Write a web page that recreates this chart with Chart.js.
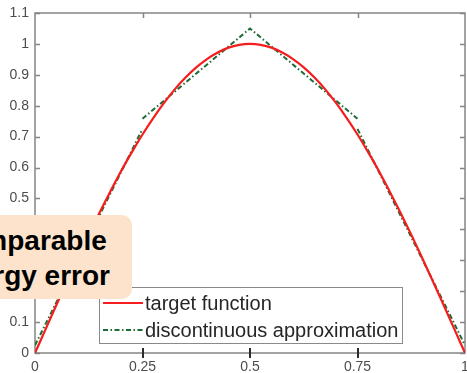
<!DOCTYPE html>
<html>
<head>
<meta charset="utf-8">
<script src="https://cdn.jsdelivr.net/npm/chart.js@4.4.1/dist/chart.umd.min.js"></script>
<style>
  html, body { margin: 0; padding: 0; background: #ffffff; overflow: hidden; }
  #wrap { position: relative; width: 467px; height: 373px; overflow: hidden; }
  #plot { position: absolute; left: 0; top: 0; }
  #note {
    position: absolute; left: -12px; top: 215px; width: 144px; height: 84px;
    background: #fde3cb; border-radius: 10px;
  }
  #noteText {
    position: absolute; left: -55px; top: 223px; margin: 0;
    font: bold 28px "Liberation Sans", Arial, sans-serif; line-height: 35px;
    color: #000000; white-space: pre;
  }
</style>
</head>
<body>
<div id="wrap">
  <canvas id="plot" width="467" height="373"></canvas>
  <div id="note"></div>
  <div id="noteText">Comparable
energy error</div>
</div>
<script>
// target function samples
const xTarget = [0, 0.025, 0.05, 0.075, 0.1, 0.125, 0.15, 0.175, 0.2, 0.225, 0.25,
                 0.275, 0.3, 0.325, 0.35, 0.375, 0.4, 0.425, 0.45, 0.475, 0.5,
                 0.525, 0.55, 0.575, 0.6, 0.625, 0.65, 0.675, 0.7, 0.725, 0.75,
                 0.775, 0.8, 0.825, 0.85, 0.875, 0.9, 0.925, 0.95, 0.975, 1];
const yTarget = [0, 0.078, 0.156, 0.233, 0.309, 0.383, 0.454, 0.522, 0.588, 0.649, 0.707,
                 0.760, 0.809, 0.853, 0.891, 0.924, 0.951, 0.972, 0.988, 0.997, 1.0,
                 0.997, 0.988, 0.972, 0.951, 0.924, 0.891, 0.853, 0.809, 0.760, 0.707,
                 0.649, 0.588, 0.522, 0.454, 0.383, 0.309, 0.233, 0.156, 0.078, 0];

// piecewise-linear approximation, broken (null) at the jumps
const xApprox = [0, 0.25, 0.25, 0.25, 0.5, 0.75, 0.75, 0.75, 1];
const yApprox = [0.025, 0.725, null, 0.758, 1.05, 0.758, null, 0.725, 0.025];

const seriesNames = ['target function', 'discontinuous approximation'];
const xTicks = [0, 0.25, 0.5, 0.75, 1];

const toPoints = (xs, ys) => xs.map((x, i) => ({ x: x, y: ys[i] }));

const AXIS = '#858585';
const TICKFONT = { family: '"Liberation Sans", Arial, sans-serif', size: 14 };

const framePlugin = {
  id: 'frame',
  beforeDatasetsDraw(chart) {
    const { ctx, chartArea: a, scales } = chart;
    const xs = scales.x, ys = scales.y;
    ctx.save();
    ctx.strokeStyle = AXIS;
    ctx.lineWidth = 1.5;
    ctx.strokeRect(a.left, a.top, a.right - a.left, a.bottom - a.top);
    ctx.beginPath();
    ys.ticks.forEach(t => {
      const py = Math.round(ys.getPixelForValue(t.value)) + 0.5;
      ctx.moveTo(a.left, py); ctx.lineTo(a.left + 5, py);
      ctx.moveTo(a.right, py); ctx.lineTo(a.right - 5, py);
    });
    xTicks.slice(1, -1).forEach(v => {
      const px = Math.round(xs.getPixelForValue(v)) + 0.5;
      ctx.moveTo(px, a.top); ctx.lineTo(px, a.top + 5);
    });
    ctx.stroke();
    // bottom tick marks straddle the axis
    ctx.strokeStyle = '#2b2b2b';
    ctx.lineWidth = 2;
    ctx.beginPath();
    xTicks.slice(1, -1).forEach(v => {
      const px = Math.round(xs.getPixelForValue(v));
      ctx.moveTo(px, a.bottom - 5); ctx.lineTo(px, a.bottom + 5);
    });
    ctx.stroke();
    ctx.restore();
  },
  afterDraw(chart) {
    // legend box inside the axes
    const ctx = chart.ctx;
    const box = { l: 99.5, t: 287.5, r: 402.5, b: 343.5 };
    ctx.save();
    ctx.fillStyle = '#ffffff';
    ctx.fillRect(box.l, box.t, box.r - box.l, box.b - box.t);
    ctx.strokeStyle = '#8a8a8a';
    ctx.lineWidth = 1;
    ctx.strokeRect(box.l, box.t, box.r - box.l, box.b - box.t);
    const rows = [303, 330];
    chart.data.datasets.forEach((ds, i) => {
      const y = rows[i];
      ctx.strokeStyle = ds.borderColor;
      ctx.lineWidth = 2;
      ctx.setLineDash(ds.borderDash || []);
      ctx.beginPath();
      ctx.moveTo(103, y); ctx.lineTo(143, y);
      ctx.stroke();
      ctx.setLineDash([]);
      ctx.fillStyle = '#262626';
      ctx.font = '20px "Liberation Sans", Arial, sans-serif';
      ctx.textBaseline = 'alphabetic';
      ctx.fillText(ds.label, 145, y + 7);
    });
    ctx.restore();
  }
};

new Chart(document.getElementById('plot'), {
  type: 'line',
  data: {
    datasets: [
      {
        label: seriesNames[0],
        data: toPoints(xTarget, yTarget),
        borderColor: '#f51d1d',
        borderWidth: 2.2,
        pointRadius: 0,
        fill: false,
        cubicInterpolationMode: 'monotone'
      },
      {
        label: seriesNames[1],
        data: toPoints(xApprox, yApprox),
        borderColor: '#1d6b35',
        borderWidth: 2,
        borderDash: [5, 2.5, 1.5, 2.5],
        pointRadius: 0,
        fill: false,
        spanGaps: false,
        tension: 0
      }
    ]
  },
  options: {
    responsive: false,
    animation: false,
    layout: { padding: { top: 13, right: 2, left: 0, bottom: 0 } },
    plugins: { legend: { display: false }, tooltip: { enabled: false } },
    scales: {
      x: {
        type: 'linear', min: 0, max: 1,
        grid: { display: false, drawTicks: false },
        border: { display: false },
        afterBuildTicks: s => { s.ticks = xTicks.map(v => ({ value: v })); },
        afterFit: s => { s.height = 20; s.paddingLeft = 0; s.paddingRight = 0; },
        ticks: {
          color: '#4d4d4d', font: TICKFONT, padding: 6, maxRotation: 0,
          autoSkip: false,
          callback: v => String(Number(v.toFixed(2)))
        }
      },
      y: {
        type: 'linear', min: 0, max: 1.1,
        grid: { display: false, drawTicks: false },
        border: { display: false },
        afterFit: s => { s.width = 35; s.paddingTop = 0; s.paddingBottom = 0; },
        ticks: {
          stepSize: 0.1, color: '#4d4d4d', font: TICKFONT, padding: 6,
          autoSkip: false,
          callback: v => String(Number(v.toFixed(1)))
        }
      }
    }
  },
  plugins: [framePlugin]
});
</script>
</body>
</html>
